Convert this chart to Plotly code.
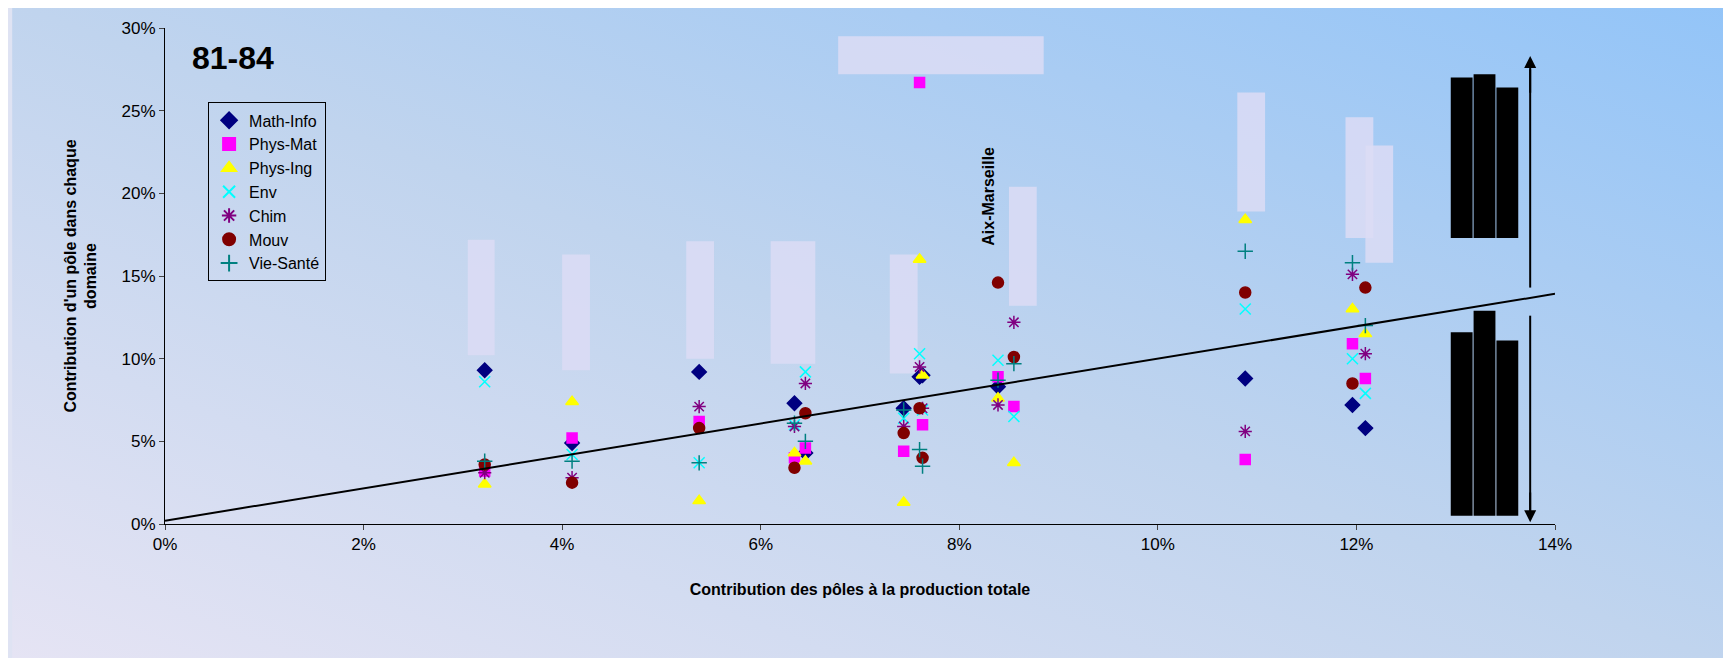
import plotly.graph_objects as go

poles = [3.22, 4.10, 5.38, 6.34, 6.45, 7.44, 7.60, 7.63, 8.39, 8.55, 10.88, 11.96, 12.09]
series = {
    "Math-Info": [9.3, 4.9, 9.2, 7.3, 4.3, 7.0, 8.9, 9.0, 8.3, None, 8.8, 7.2, 5.8],
    "Phys-Mat":  [3.2, 5.2, 6.2, 4.0, 4.6, 4.4, 26.7, 6.0, 8.9, 7.1, 3.9, 10.9, 8.8],
    "Phys-Ing":  [2.4, 7.4, 1.4, 4.3, 3.8, 1.3, 16.0, 9.0, 7.6, 3.7, 18.4, 13.0, 11.5],
    "Env":       [8.6, 4.2, 3.7, 6.0, 9.2, 6.4, 10.3, 6.9, 9.9, 6.5, 13.0, 10.0, 7.9],
    "Chim":      [3.1, 2.8, 7.1, 5.9, 8.5, 5.9, 9.5, 7.0, 7.2, 12.2, 5.6, 15.1, 10.3],
    "Mouv":      [3.6, 2.5, 5.8, 3.4, 6.7, 5.5, 7.0, 4.0, 14.6, 10.1, 14.0, 8.5, 14.3],
    "Vie-Santé": [3.8, 3.8, 3.7, 6.1, 5.0, 6.9, 4.5, 3.5, 8.7, 9.7, 16.5, 15.8, 12.0],
}
styles = {
    "Math-Info": ("diamond", "#000080", 11),
    "Phys-Mat": ("square", "#ff00ff", 10),
    "Phys-Ing": ("triangle-up", "#ffff00", 11),
    "Env": ("x-thin-open", "#00ffff", 11),
    "Chim": ("asterisk-open", "#800080", 11),
    "Mouv": ("circle", "#800000", 11),
    "Vie-Santé": ("cross-thin-open", "#008080", 11),
}
trend_intercept, trend_slope = 0.2, 0.98
x_ticks = [0, 2, 4, 6, 8, 10, 12, 14]
y_ticks = [0, 5, 10, 15, 20, 25, 30]

fig = go.Figure()
for name, ys in series.items():
    sym, col, sz = styles[name]
    fig.add_trace(go.Scatter(x=poles, y=ys, mode="markers", name=name,
        marker=dict(symbol=sym, color=col, size=sz, line=dict(color=col, width=1.5))))
fig.add_trace(go.Scatter(x=[0, 14], y=[trend_intercept, trend_intercept + trend_slope * 14],
    mode="lines", line=dict(color="black", width=2), showlegend=False))

svg = ("data:image/svg+xml;utf8,<svg xmlns='http://www.w3.org/2000/svg' width='100' height='100' preserveAspectRatio='none'>"
       "<defs><linearGradient id='g' x1='0' y1='1' x2='1' y2='0'><stop offset='0' stop-color='%23e6e4f4'/>"
       "<stop offset='0.5' stop-color='%23c0d4ee'/><stop offset='1' stop-color='%2392c4f8'/></linearGradient></defs>"
       "<rect width='100' height='100' fill='url(%23g)'/></svg>")

shapes = []
blocks = [(3.05, 3.32, 10.2, 17.2), (4.0, 4.28, 9.3, 16.3), (5.25, 5.53, 10.0, 17.1),
          (6.1, 6.55, 9.7, 17.1), (7.3, 7.58, 9.1, 16.3), (6.78, 8.85, 27.2, 29.5),
          (8.5, 8.78, 13.2, 20.4), (10.8, 11.08, 18.9, 26.1), (11.89, 12.17, 17.3, 24.6),
          (12.09, 12.37, 15.8, 22.9)]
for x0, x1, y0, y1 in blocks:
    shapes.append(dict(type="rect", x0=x0, x1=x1, y0=y0, y1=y1, fillcolor="#dcdcf4",
                       opacity=0.85, line=dict(width=0), layer="below"))
for x0, x1, yt in [(12.95, 13.17, 27.0), (13.18, 13.4, 27.2), (13.41, 13.63, 26.4)]:
    shapes.append(dict(type="rect", x0=x0, x1=x1, y0=17.3, y1=yt, fillcolor="black", line=dict(width=0)))
for x0, x1, yt in [(12.95, 13.17, 11.6), (13.18, 13.4, 12.9), (13.41, 13.63, 11.1)]:
    shapes.append(dict(type="rect", x0=x0, x1=x1, y0=0.5, y1=yt, fillcolor="black", line=dict(width=0)))
shapes.append(dict(type="line", x0=13.75, x1=13.75, y0=14.3, y1=27.5, line=dict(color="black", width=2)))
shapes.append(dict(type="line", x0=13.75, x1=13.75, y0=12.6, y1=0.8, line=dict(color="black", width=2)))

fig.update_layout(
    width=1731, height=658, margin=dict(l=157, r=184, t=20, b=142),
    paper_bgcolor="#dfe3f3", plot_bgcolor="rgba(0,0,0,0)",
    images=[dict(source=svg, xref="paper", yref="paper", x=-0.11, y=1.05, sizex=1.25, sizey=1.35,
                 sizing="stretch", layer="below", xanchor="left", yanchor="top")],
    shapes=shapes,
    font=dict(family="Liberation Sans, Arial", color="black", size=17),
    xaxis=dict(range=[0, 14], tickvals=x_ticks, ticktext=[f"{v}%" for v in x_ticks], showgrid=False,
               zeroline=False, showline=True, linecolor="black", ticks="outside", ticklen=5,
               title=dict(text="<b>Contribution des pôles à la production totale</b>", font=dict(size=16), standoff=30)),
    yaxis=dict(range=[0, 30], tickvals=y_ticks, ticktext=[f"{v}%" for v in y_ticks], showgrid=False,
               zeroline=False, showline=True, linecolor="black", ticks="outside", ticklen=5,
               title=dict(text="<b>Contribution d'un pôle dans chaque<br>domaine</b>", font=dict(size=16), standoff=20)),
    legend=dict(x=0.031, y=0.85, xanchor="left", yanchor="top", bgcolor="rgba(0,0,0,0)",
                bordercolor="black", borderwidth=1, font=dict(size=16), itemsizing="constant", tracegroupgap=8),
    annotations=[
        dict(text="<b>81-84</b>", x=0.018, y=0.94, xref="paper", yref="paper", showarrow=False,
             font=dict(size=32), xanchor="left", yanchor="middle"),
        dict(text="<b>Aix-Marseille</b>", x=8.3, y=19.8, showarrow=False, textangle=-90, font=dict(size=16)),
        dict(x=13.75, y=28.3, ax=13.75, ay=26, axref="x", ayref="y", showarrow=True, arrowhead=2,
             arrowsize=1.2, arrowwidth=2, arrowcolor="black", text=""),
        dict(x=13.75, y=0.1, ax=13.75, ay=2, axref="x", ayref="y", showarrow=True, arrowhead=2,
             arrowsize=1.2, arrowwidth=2, arrowcolor="black", text=""),
    ],
)
fig.write_html("out.html")
